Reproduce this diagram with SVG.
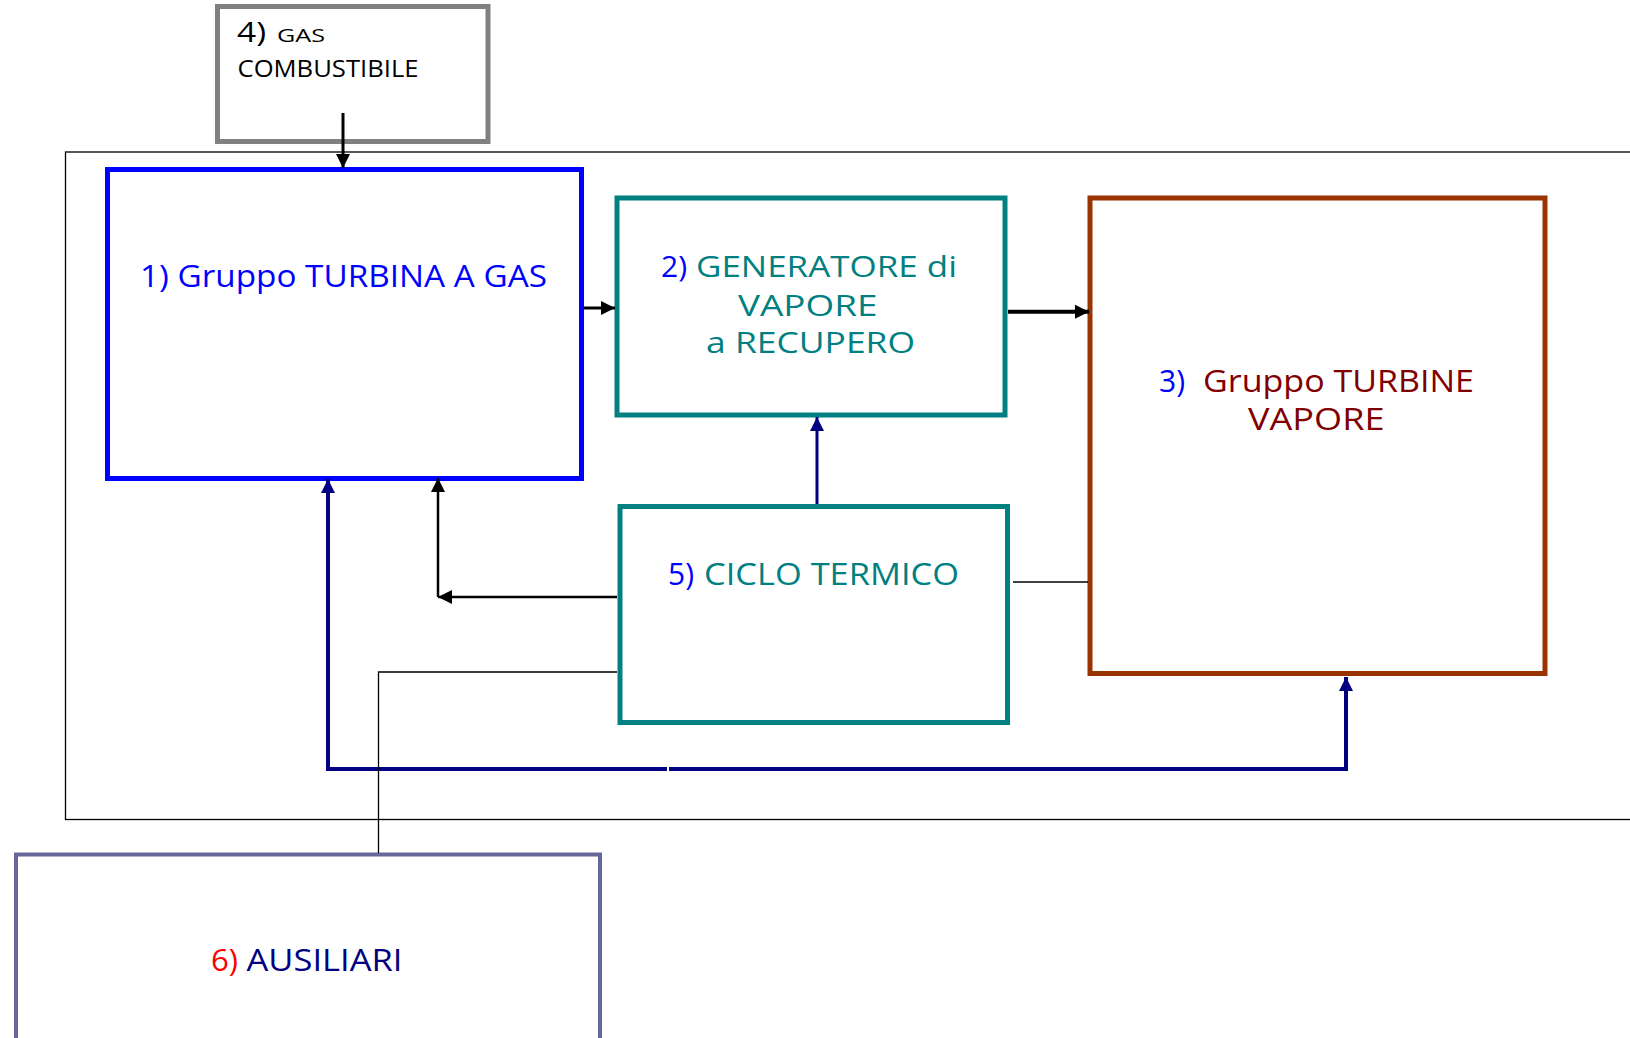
<svg xmlns="http://www.w3.org/2000/svg" width="1630" height="1038" viewBox="0 0 1630 1038">
<style>
  text { font-family: "Open Sans", "Liberation Sans", sans-serif; font-size: 31px; }
  .box { fill: #ffffff; stroke-width: 5; }
  .blue { fill: #0000ff; }
  .teal { fill: #008080; }
  .maroon { fill: #800000; }
  .navy { fill: #000080; }
  .red { fill: #ff0000; }
  .blk { fill: #000000; }
  .thin { fill: none; stroke: #000000; stroke-width: 1.3; }
  .sm { font-size: 29px; }
</style>
<defs>
  <marker id="ab" viewBox="0 0 14 14" refX="14" refY="7" markerWidth="14" markerHeight="14" markerUnits="userSpaceOnUse" orient="auto">
    <path d="M0,0 L14,7 L0,14 z" fill="#000000"/>
  </marker>
  <marker id="an" viewBox="0 0 14 14" refX="14" refY="7" markerWidth="14" markerHeight="14" markerUnits="userSpaceOnUse" orient="auto">
    <path d="M0,0 L14,7 L0,14 z" fill="#000080"/>
  </marker>
</defs>

<rect id="frame" x="65.5" y="152" width="1600" height="667.5" class="thin"/>

<g id="node4">
  <rect x="217.5" y="6.5" width="270.5" height="135" class="box" style="stroke:#808080"/>
  <text x="237" y="42" class="blk" style="font-size:27px" textLength="29" lengthAdjust="spacingAndGlyphs">4)</text>
  <text x="277" y="42" class="blk" style="font-size:19px" textLength="48" lengthAdjust="spacingAndGlyphs">GAS</text>
  <text x="237.5" y="77" class="blk" style="font-size:23px" textLength="181" lengthAdjust="spacingAndGlyphs">COMBUSTIBILE</text>
</g>

<g id="node1">
  <rect x="107.5" y="169.5" width="474" height="309" class="box" style="stroke:#0000ff"/>
  <text x="140" y="287" class="blue" textLength="407" lengthAdjust="spacingAndGlyphs">1) Gruppo TURBINA A GAS</text>
</g>

<g id="node2">
  <rect x="617" y="198" width="388" height="217" class="box" style="stroke:#008080"/>
  <text x="661" y="277" class="blue sm" textLength="26" lengthAdjust="spacingAndGlyphs">2)</text>
  <text x="696" y="277" class="teal sm" textLength="261" lengthAdjust="spacingAndGlyphs">GENERATORE di</text>
  <text x="738" y="316" class="teal sm" textLength="139.5" lengthAdjust="spacingAndGlyphs">VAPORE</text>
  <text x="706" y="353" class="teal sm" textLength="209" lengthAdjust="spacingAndGlyphs">a RECUPERO</text>
</g>

<g id="node3">
  <rect x="1090" y="198" width="455" height="475.5" class="box" style="stroke:#993300"/>
  <text x="1159" y="392" class="blue" textLength="26" lengthAdjust="spacingAndGlyphs">3)</text>
  <text x="1203" y="392" class="maroon" textLength="271" lengthAdjust="spacingAndGlyphs">Gruppo TURBINE</text>
  <text x="1248" y="430" class="maroon" textLength="136.5" lengthAdjust="spacingAndGlyphs">VAPORE</text>
</g>

<g id="node5">
  <rect x="620" y="506.5" width="387.5" height="216" class="box" style="stroke:#008080"/>
  <text x="668" y="585" class="blue" textLength="26" lengthAdjust="spacingAndGlyphs">5)</text>
  <text x="704" y="585" class="teal" textLength="255" lengthAdjust="spacingAndGlyphs">CICLO TERMICO</text>
</g>

<g id="node6">
  <rect x="16" y="854.5" width="584" height="200" class="box" style="stroke:#666699;stroke-width:4"/>
  <text x="211" y="971" class="red" textLength="27" lengthAdjust="spacingAndGlyphs">6)</text>
  <text x="246.5" y="971" class="navy" textLength="156" lengthAdjust="spacingAndGlyphs">AUSILIARI</text>
</g>

<g id="connectors" fill="none">
  <line x1="343" y1="113" x2="343" y2="168" stroke="#000000" stroke-width="3" marker-end="url(#ab)"/>
  <line x1="584" y1="308" x2="615" y2="308" stroke="#000000" stroke-width="3" marker-end="url(#ab)"/>
  <line x1="1008" y1="311.7" x2="1089" y2="311.7" stroke="#000000" stroke-width="4" marker-end="url(#ab)"/>
  <line x1="817" y1="504" x2="817" y2="417" stroke="#000080" stroke-width="3" marker-end="url(#an)"/>
  <line x1="617" y1="597" x2="438" y2="597" stroke="#000000" stroke-width="2.5" marker-end="url(#ab)"/>
  <line x1="438" y1="597" x2="438" y2="478" stroke="#000000" stroke-width="2.5" marker-end="url(#ab)"/>
  <line x1="1013" y1="582" x2="1088" y2="582" stroke="#000000" stroke-width="1.3"/>
  <path d="M667,769 L328,769 L328,479" stroke="#000080" stroke-width="4" marker-end="url(#an)"/>
  <path d="M669,769 L1346,769 L1346,677" stroke="#000080" stroke-width="4" marker-end="url(#an)"/>
  <path d="M617,672 L378.5,672 L378.5,853" stroke="#000000" stroke-width="1.3"/>
</g>
</svg>
